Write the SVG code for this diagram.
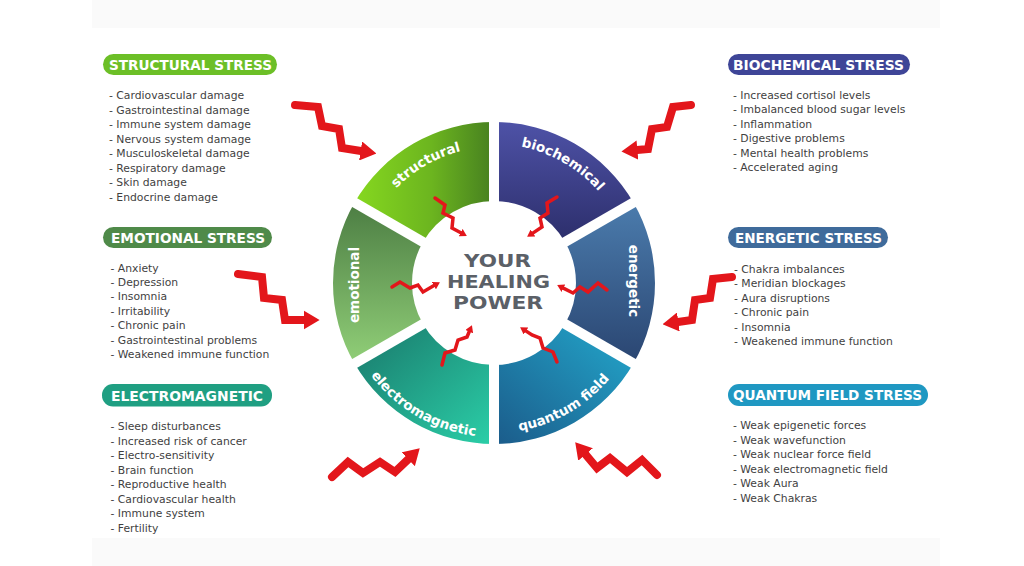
<svg xmlns="http://www.w3.org/2000/svg" width="1024" height="566" viewBox="0 0 1024 566">
  <defs>
    <linearGradient id="gStruct" x1="0" y1="0.5" x2="1" y2="0.5">
      <stop offset="0" stop-color="#86d81f"/>
      <stop offset="0.55" stop-color="#6cb51f"/>
      <stop offset="1" stop-color="#467f20"/>
    </linearGradient>
    <linearGradient id="gBio" x1="0.5" y1="0" x2="0.5" y2="1">
      <stop offset="0" stop-color="#4e52a7"/>
      <stop offset="1" stop-color="#2c2e6b"/>
    </linearGradient>
    <linearGradient id="gEner" x1="0.5" y1="0" x2="0.5" y2="1">
      <stop offset="0" stop-color="#4b7cad"/>
      <stop offset="1" stop-color="#2a4571"/>
    </linearGradient>
    <linearGradient id="gQuant" x1="1" y1="0" x2="0" y2="1">
      <stop offset="0" stop-color="#23a8cc"/>
      <stop offset="1" stop-color="#1b5b8a"/>
    </linearGradient>
    <linearGradient id="gElec" x1="0" y1="0" x2="1" y2="1">
      <stop offset="0" stop-color="#19776a"/>
      <stop offset="1" stop-color="#2bcfa8"/>
    </linearGradient>
    <linearGradient id="gEmo" x1="0.5" y1="0" x2="0.5" y2="1">
      <stop offset="0" stop-color="#4c7d43"/>
      <stop offset="1" stop-color="#91cf78"/>
    </linearGradient>
    <marker id="head" markerUnits="strokeWidth" markerWidth="2" markerHeight="2.4" viewBox="0 0 2 2.4" refX="0.05" refY="1.2" orient="auto">
      <path d="M0,0 L2,1.2 L0,2.4 Z" fill="#e3161b"/>
    </marker>
    <path id="pStruct" d="M376.22,215 A136,136 0 0 1 494,147"/>
    <path id="pBio" d="M494,144 A139,139 0 0 1 614.38,213.5"/>
    <path id="pQuant" d="M494,433 A150,150 0 0 0 623.9,358"/>
    <path id="pElec" d="M360.63,360 A154,154 0 0 0 494,437"/>
  </defs>
  <style>
    .badge-text { font-family: "DejaVu Sans", sans-serif; font-weight: bold; font-size: 13.5px; fill: #ffffff; }
    .list { font-family: "DejaVu Sans", sans-serif; font-size: 10.8px; fill: #3f3f3f; }
    .seg { font-family: "DejaVu Sans", sans-serif; font-weight: bold; font-size: 13.5px; fill: #ffffff; }
    .center { font-family: "DejaVu Sans", sans-serif; font-weight: bold; font-size: 18px; fill: #5b6067; }
    .arrow-big { fill: none; stroke: #e3161b; stroke-width: 8; stroke-linejoin: miter; stroke-linecap: round; marker-end: url(#head); }
    .arrow-small { fill: none; stroke: #e3161b; stroke-width: 3.5; stroke-linejoin: miter; stroke-linecap: round; marker-end: url(#head); }
    .gap { stroke: #ffffff; stroke-width: 10; }
  </style>

  <rect x="0" y="0" width="1024" height="566" fill="#ffffff"/>
  <rect x="92" y="0" width="848" height="28" fill="#fafafa"/>
  <rect x="92" y="538" width="848" height="28" fill="#fafafa"/>

  <!-- Wheel -->
  <g id="wheel">
    <g id="seg-energetic">
      <path d="M633.43,202.5 A161,161 0 0 1 633.43,363.5 L565.01,324 A82,82 0 0 0 565.01,242 Z" fill="url(#gEner)"/>
      <text class="seg" transform="translate(629,281) rotate(90)" text-anchor="middle">energetic</text>
    </g>
    <g id="seg-quantum">
      <path d="M633.43,363.5 A161,161 0 0 1 494,444 L494,365 A82,82 0 0 0 565.01,324 Z" fill="url(#gQuant)"/>
      <text class="seg"><textPath href="#pQuant" startOffset="50%" text-anchor="middle">quantum field</textPath></text>
    </g>
    <g id="seg-electromagnetic">
      <path d="M494,444 A161,161 0 0 1 354.57,363.5 L422.99,324 A82,82 0 0 0 494,365 Z" fill="url(#gElec)"/>
      <text class="seg"><textPath href="#pElec" startOffset="50%" text-anchor="middle">electromagnetic</textPath></text>
    </g>
    <g id="seg-emotional">
      <path d="M354.57,363.5 A161,161 0 0 1 354.57,202.5 L422.99,242 A82,82 0 0 0 422.99,324 Z" fill="url(#gEmo)"/>
      <text class="seg" transform="translate(359,285) rotate(-90)" text-anchor="middle">emotional</text>
    </g>
    <g id="seg-structural">
      <path d="M354.57,202.5 A161,161 0 0 1 494,122 L494,201 A82,82 0 0 0 422.99,242 Z" fill="url(#gStruct)"/>
      <text class="seg"><textPath href="#pStruct" startOffset="50%" text-anchor="middle">structural</textPath></text>
    </g>
    <g id="seg-biochemical">
      <path d="M494,122 A161,161 0 0 1 633.43,202.5 L565.01,242 A82,82 0 0 0 494,201 Z" fill="url(#gBio)"/>
      <text class="seg"><textPath href="#pBio" startOffset="50%" text-anchor="middle">biochemical</textPath></text>
    </g>
    <g id="gaps">
      <line class="gap" x1="494" y1="283" x2="494" y2="110"/>
      <line class="gap" x1="494" y1="283" x2="494" y2="456"/>
      <line class="gap" x1="494" y1="283" x2="645" y2="195.8"/>
      <line class="gap" x1="494" y1="283" x2="645" y2="370.2"/>
      <line class="gap" x1="494" y1="283" x2="343" y2="195.8"/>
      <line class="gap" x1="494" y1="283" x2="343" y2="370.2"/>
    </g>
  </g>

  <g id="center-title">
    <text class="center" x="497.5" y="267" text-anchor="middle" textLength="67" lengthAdjust="spacingAndGlyphs">YOUR</text>
    <text class="center" x="498.5" y="288" text-anchor="middle" textLength="103" lengthAdjust="spacingAndGlyphs">HEALING</text>
    <text class="center" x="498" y="309" text-anchor="middle" textLength="90" lengthAdjust="spacingAndGlyphs">POWER</text>
  </g>

  <!-- Connectors (red zigzag arrows) -->
  <g id="connectors">
    <polyline class="arrow-big" points="295,105 318,107 322,126 339,129 342,148 361,151"/>
    <polyline class="arrow-big" points="238,274 262,277 264,298 282,300 285,320 304,320"/>
    <polyline class="arrow-big" points="691,105 673,107 667,127 652,129 648,149 637,150"/>
    <polyline class="arrow-big" points="732,277 713,279 710,298 695,300 692,320 678,322"/>
    <polyline class="arrow-big" points="332,477 348,462 363,473 380,462 395,472 408.5,459"/>
    <polyline class="arrow-big" points="657,475 642,460 627,472 610,458 597,468 585.3,454.2"/>

    <polyline class="arrow-small" points="435,198 445,205 443,213 453,218 452,228 460.8,232.7"/>
    <polyline class="arrow-small" points="557,197 547,203 548,213 540,218 542,227 532.8,233.1"/>
    <polyline class="arrow-small" points="392,287 400,282 410,288 418,285 423,292 434,285.6"/>
    <polyline class="arrow-small" points="607,290 598,283 588,292 580,287 573,293 563.3,288.1"/>
    <polyline class="arrow-small" points="442,365 445,353 455,350 458,340 467,337 469.3,331.5"/>
    <polyline class="arrow-small" points="557,362 553,352 543,348 540,338 532,335 525.8,330.9"/>
  </g>

  <!-- Structural stress -->
  <g id="structural-stress">
    <rect x="103" y="54" width="174" height="21" rx="10.5" fill="#6cbf27"/>
    <text class="badge-text" x="109" y="69.5" textLength="163" lengthAdjust="spacingAndGlyphs">STRUCTURAL STRESS</text>
    <text class="list" x="109" y="99">
      <tspan x="109" dy="0">- Cardiovascular damage</tspan>
      <tspan x="109" dy="14.5">- Gastrointestinal damage</tspan>
      <tspan x="109" dy="14.5">- Immune system damage</tspan>
      <tspan x="109" dy="14.5">- Nervous system damage</tspan>
      <tspan x="109" dy="14.5">- Musculoskeletal damage</tspan>
      <tspan x="109" dy="14.5">- Respiratory damage</tspan>
      <tspan x="109" dy="14.5">- Skin damage</tspan>
      <tspan x="109" dy="14.5">- Endocrine damage</tspan>
    </text>
  </g>

  <!-- Emotional stress -->
  <g id="emotional-stress">
    <rect x="103" y="227" width="169" height="21" rx="10.5" fill="#4f8a49"/>
    <text class="badge-text" x="111" y="242.5" textLength="154" lengthAdjust="spacingAndGlyphs">EMOTIONAL STRESS</text>
    <text class="list" x="110.5" y="271.5">
      <tspan x="110.5" dy="0">- Anxiety</tspan>
      <tspan x="110.5" dy="14.45">- Depression</tspan>
      <tspan x="110.5" dy="14.45">- Insomnia</tspan>
      <tspan x="110.5" dy="14.45">- Irritability</tspan>
      <tspan x="110.5" dy="14.45">- Chronic pain</tspan>
      <tspan x="110.5" dy="14.45">- Gastrointestinal problems</tspan>
      <tspan x="110.5" dy="14.45">- Weakened immune function</tspan>
    </text>
  </g>

  <!-- Electromagnetic -->
  <g id="electromagnetic-stress">
    <rect x="102" y="384" width="170" height="22.5" rx="11" fill="#1f9f82"/>
    <text class="badge-text" x="111" y="400.5" textLength="152" lengthAdjust="spacingAndGlyphs">ELECTROMAGNETIC</text>
    <text class="list" x="110.5" y="430">
      <tspan x="110.5" dy="0">- Sleep disturbances</tspan>
      <tspan x="110.5" dy="14.5">- Increased risk of cancer</tspan>
      <tspan x="110.5" dy="14.5">- Electro-sensitivity</tspan>
      <tspan x="110.5" dy="14.5">- Brain function</tspan>
      <tspan x="110.5" dy="14.5">- Reproductive health</tspan>
      <tspan x="110.5" dy="14.5">- Cardiovascular health</tspan>
      <tspan x="110.5" dy="14.5">- Immune system</tspan>
      <tspan x="110.5" dy="14.5">- Fertility</tspan>
    </text>
  </g>

  <!-- Biochemical stress -->
  <g id="biochemical-stress">
    <rect x="728" y="54" width="182" height="21" rx="10.5" fill="#3e4597"/>
    <text class="badge-text" x="733" y="69.5" textLength="171" lengthAdjust="spacingAndGlyphs">BIOCHEMICAL STRESS</text>
    <text class="list" x="733" y="99">
      <tspan x="733" dy="0">- Increased cortisol levels</tspan>
      <tspan x="733" dy="14.46">- Imbalanced blood sugar levels</tspan>
      <tspan x="733" dy="14.46">- Inflammation</tspan>
      <tspan x="733" dy="14.46">- Digestive problems</tspan>
      <tspan x="733" dy="14.46">- Mental health problems</tspan>
      <tspan x="733" dy="14.46">- Accelerated aging</tspan>
    </text>
  </g>

  <!-- Energetic stress -->
  <g id="energetic-stress">
    <rect x="728" y="227" width="160" height="21" rx="10.5" fill="#3f6b9b"/>
    <text class="badge-text" x="735" y="242.5" textLength="147" lengthAdjust="spacingAndGlyphs">ENERGETIC STRESS</text>
    <text class="list" x="734" y="273">
      <tspan x="734" dy="0">- Chakra imbalances</tspan>
      <tspan x="734" dy="14.4">- Meridian blockages</tspan>
      <tspan x="734" dy="14.4">- Aura disruptions</tspan>
      <tspan x="734" dy="14.4">- Chronic pain</tspan>
      <tspan x="734" dy="14.4">- Insomnia</tspan>
      <tspan x="734" dy="14.4">- Weakened immune function</tspan>
    </text>
  </g>

  <!-- Quantum field stress -->
  <g id="quantum-field-stress">
    <rect x="728" y="384" width="200" height="22" rx="11" fill="#1f98c2"/>
    <text class="badge-text" x="733" y="400" textLength="189" lengthAdjust="spacingAndGlyphs">QUANTUM FIELD STRESS</text>
    <text class="list" x="733" y="429.3">
      <tspan x="733" dy="0">- Weak epigenetic forces</tspan>
      <tspan x="733" dy="14.48">- Weak wavefunction</tspan>
      <tspan x="733" dy="14.48">- Weak nuclear force field</tspan>
      <tspan x="733" dy="14.48">- Weak electromagnetic field</tspan>
      <tspan x="733" dy="14.48">- Weak Aura</tspan>
      <tspan x="733" dy="14.48">- Weak Chakras</tspan>
    </text>
  </g>
</svg>
